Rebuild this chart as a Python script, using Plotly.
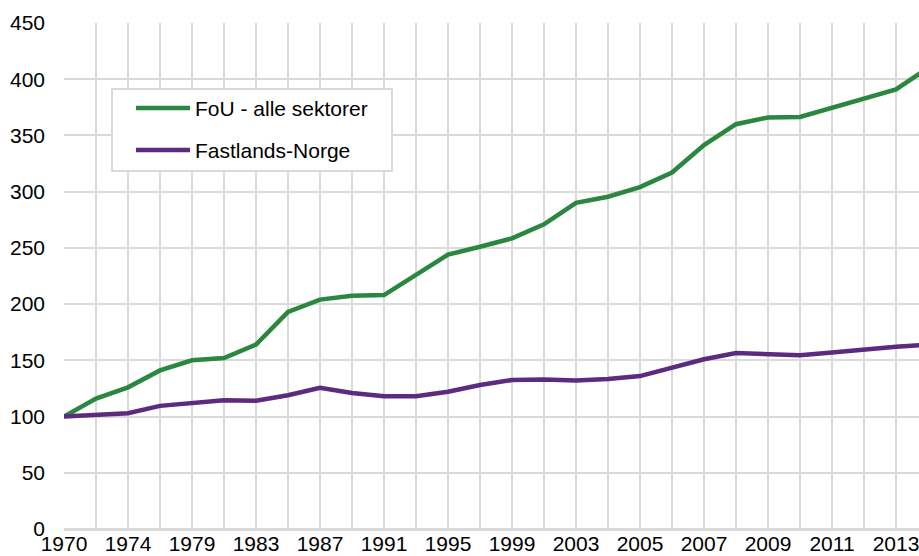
import plotly.graph_objects as go

years = ["1970", "1972", "1974", "1977", "1979", "1981", "1983", "1985", "1987", "1989",
         "1991", "1993", "1995", "1997", "1999", "2001", "2003", "2004", "2005", "2006",
         "2007", "2008", "2009", "2010", "2011", "2012", "2013", "2014"]
tick_labels = ["1970", "", "1974", "", "1979", "", "1983", "", "1987", "", "1991", "", "1995", "",
               "1999", "", "2003", "", "2005", "", "2007", "", "2009", "", "2011", "", "2013", ""]
fou = [100, 116, 126, 141, 150, 152, 164, 193, 204, 207.5, 208, 226, 244, 251, 258.5, 271,
       290, 295.5, 304, 317, 341.5, 360, 366, 366.5, 375, 383, 391, 410]
fastland = [100, 101.5, 103, 109.5, 112, 114.5, 114, 119, 125.5, 121, 118, 118, 122, 128,
            132.5, 133, 132, 133.5, 136, 143.5, 151, 156.5, 155.5, 154.5, 157, 160, 162, 164]
series_names = ["FoU - alle sektorer", "Fastlands-Norge"]
colors = ["#29873f", "#5c2a7f"]

FONT = "Liberation Sans, Arial, sans-serif"
GRID = "#dadada"

fig = go.Figure()
for name, vals, col in zip(series_names, [fou, fastland], colors):
    fig.add_trace(go.Scatter(x=years, y=vals, mode="lines", name=name,
                             line=dict(color=col, width=4.5), showlegend=False))

W, H = 919, 556
L, R, T, B = 64, 0, 23, 556 - 529
pw, ph = W - L - R, H - T - B

def px(x):  # page pixel -> paper
    return (x - L) / pw

def py(y):
    return (H - B - y) / ph

shapes = [dict(type="rect", xref="paper", yref="paper", x0=px(112), x1=px(392), y0=py(171), y1=py(89),
               line=dict(color=GRID, width=2), fillcolor="white", layer="above")]
annotations = []
for i, (name, col) in enumerate(zip(series_names, colors)):
    yy = 108 + 42 * i
    shapes.append(dict(type="line", xref="paper", yref="paper", x0=px(136), x1=px(190), y0=py(yy), y1=py(yy),
                       line=dict(color=col, width=4.5), layer="above"))
    annotations.append(dict(xref="paper", yref="paper", x=px(193), y=py(yy), text=name, showarrow=False,
                            xanchor="left", yanchor="middle", font=dict(family=FONT, size=21, color="#000")))

fig.update_layout(
    width=W, height=H,
    margin=dict(l=L, r=R, t=T, b=B),
    paper_bgcolor="white", plot_bgcolor="white",
    font=dict(family=FONT, size=20, color="#000"),
    shapes=shapes, annotations=annotations,
    xaxis=dict(type="category", tickmode="array", tickvals=years, ticktext=tick_labels,
               range=[0, (W - L) / 32], showgrid=True, gridcolor=GRID, gridwidth=2,
               showline=False, ticks="", tickfont=dict(size=21), ticklabelstandoff=0,
               automargin=False),
    yaxis=dict(range=[0, 450], dtick=50, showgrid=True, gridcolor=GRID, gridwidth=2,
               zeroline=True, zerolinecolor=GRID, zerolinewidth=3, ticks="",
               tickfont=dict(size=21), ticklabelstandoff=18, automargin=False),
)

fig.write_html("out.html", config={"displayModeBar": False},
               post_script="document.body.style.margin='0';document.body.style.overflow='hidden';")
